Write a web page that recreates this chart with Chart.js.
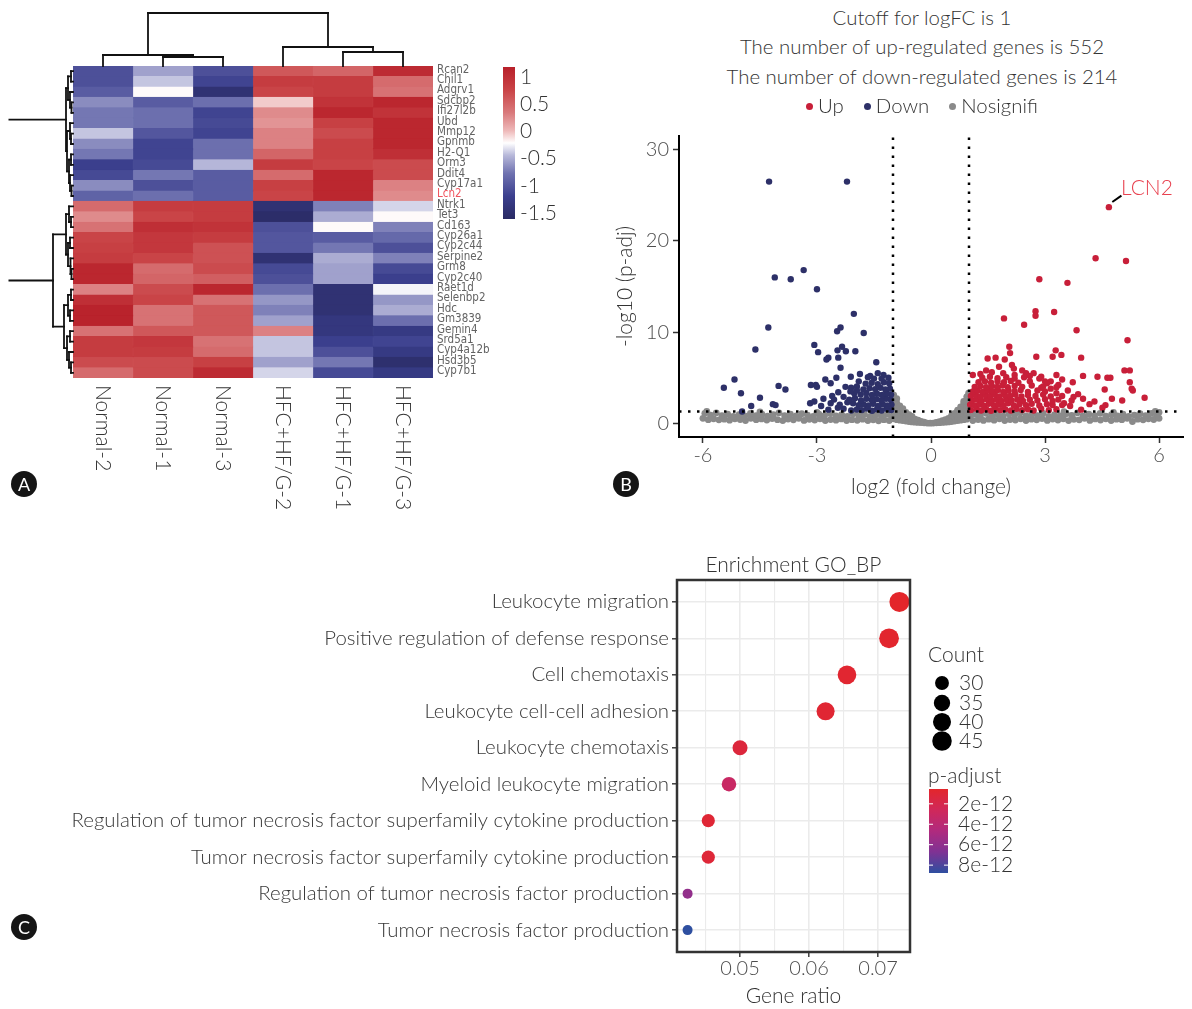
<!DOCTYPE html>
<html>
<head>
<meta charset="utf-8">
<script src="https://cdn.jsdelivr.net/npm/chart.js@4.4.1/dist/chart.umd.min.js"></script>
<style>
  html, body { margin: 0; padding: 0; background: #fff; }
  #page { position: relative; width: 1192px; height: 1009px; overflow: hidden;
          font-family: Lato, "Open Sans", sans-serif; font-weight: 300; color: #333; }
  canvas { position: absolute; }
  .tl { position: absolute; white-space: nowrap; font-size: 20.4px; line-height: 29.5px;
        transform: translateX(-50%); z-index: 2; }
  .badge { position: absolute; width: 26px; height: 26px; border-radius: 50%; background: #151515;
           color: #fff; font: 400 18px/26px Lato, sans-serif; text-align: center; z-index: 2; }
  .dot { display: inline-block; width: 7px; height: 7px; border-radius: 50%;
         vertical-align: middle; margin: 0 5px 3px 0; }
  .gap { display: inline-block; width: 20px; }
</style>
</head>
<body>
<div id="page">
  <canvas id="heatCanvas" width="600" height="510" style="left:0;top:0"></canvas>
  <canvas id="volcanoCanvas" width="592" height="390" style="left:600px;top:120px"></canvas>
  <canvas id="goCanvas" width="1192" height="464" style="left:0;top:545px"></canvas>

  <div class="tl" id="vt1" style="left:922px;top:3px"></div>
  <div class="tl" id="vt2" style="left:922px;top:32px"></div>
  <div class="tl" id="vt3" style="left:922px;top:62px"></div>
  <div class="tl" id="vLegend" style="left:922px;top:91px"></div>

  <div class="badge" style="left:11px;top:471px">A</div>
  <div class="badge" style="left:613px;top:471px">B</div>
  <div class="badge" style="left:11px;top:914px">C</div>
</div>

<script>
// ---------------- Panel A: clustered heatmap ----------------
const sampleNames = ['Normal-2', 'Normal-1', 'Normal-3', 'HFC+HF/G-2', 'HFC+HF/G-1', 'HFC+HF/G-3'];
const geneNames = ['Rcan2', 'Chil1', 'Adgrv1', 'Sdcbp2', 'Ifi27l2b', 'Ubd', 'Mmp12', 'Gpnmb', 'H2-Q1',
  'Orm3', 'Ddit4', 'Cyp17a1', 'Lcn2', 'Ntrk1', 'Tet3', 'Cd163', 'Cyp26a1', 'Cyp2c44', 'Serpine2',
  'Grm8', 'Cyp2c40', 'Raet1d', 'Selenbp2', 'Hdc', 'Gm3839', 'Gemin4', 'Srd5a1', 'Cyp4a12b',
  'Hsd3b5', 'Cyp7b1'];
const highlightGene = 'Lcn2';
// row z-scores, columns in sampleNames order
const exprZ = [
  [-1.05, -0.55, -1.05, 0.60, 0.50, 1.05],
  [-1.05, -0.40, -1.15, 0.85, 0.85, 0.45],
  [-0.95, -0.20, -1.45, 0.75, 0.85, 0.40],
  [-0.65, -0.95, -0.80, -0.05, 0.95, 1.10],
  [-0.75, -0.80, -1.15, 0.25, 1.10, 0.95],
  [-0.75, -0.80, -1.10, 0.20, 0.80, 1.10],
  [-0.40, -1.00, -1.15, 0.30, 0.70, 1.10],
  [-0.65, -1.15, -0.80, 0.30, 0.80, 1.10],
  [-0.75, -1.15, -0.80, 0.50, 0.80, 1.00],
  [-1.20, -1.10, -0.45, 0.85, 0.75, 0.70],
  [-1.10, -0.75, -0.95, 0.45, 1.10, 0.70],
  [-0.65, -1.05, -0.95, 0.80, 1.10, 0.30],
  [-0.90, -0.80, -0.95, 0.75, 1.10, 0.25],
  [0.45, 0.85, 0.85, -1.45, -0.70, -0.35],
  [0.25, 0.75, 0.85, -1.55, -0.50, -0.20],
  [0.40, 1.00, 0.95, -1.05, -0.20, -0.70],
  [0.75, 0.90, 0.85, -1.00, -0.95, -0.85],
  [0.80, 0.90, 0.65, -1.00, -0.75, -1.05],
  [0.85, 0.75, 0.65, -1.45, -0.50, -0.70],
  [1.10, 0.45, 0.70, -1.10, -0.55, -1.10],
  [1.10, 0.50, 0.55, -1.05, -0.55, -1.20],
  [0.30, 0.70, 1.10, -0.80, -1.45, -0.25],
  [1.00, 0.75, 0.40, -0.60, -1.45, -0.60],
  [1.15, 0.40, 0.60, -0.70, -1.45, -0.50],
  [1.15, 0.40, 0.60, -0.55, -1.35, -0.80],
  [0.40, 0.60, 0.60, 0.30, -1.35, -1.30],
  [0.85, 0.90, 0.40, -0.40, -1.20, -1.15],
  [0.85, 0.85, 0.45, -0.40, -1.05, -1.30],
  [0.70, 0.70, 0.80, -0.55, -0.75, -1.50],
  [0.45, 0.70, 1.05, -0.35, -1.10, -1.30]
];
const heatRange = [-1.61, 1.18];
const heatTicks = [1, 0.5, 0, -0.5, -1, -1.5];
const heatTickLabels = ['1', '0.5', '0', '-0.5', '-1', '-1.5'];
// dendrograms: [mergeHeight, left, right]; leaves are column / row indices
const colTree = [53, [11, 0, [9, 1, 2]], [19, 3, [14, 4, 5]]];
const rowTree = [66,
  [7, [5, [2, 0, 1], [3, 2, [1.5, 3, 4]]],
      [6, [3, 5, [2, 6, 7]], [4, [2, 8, 9], [3, 10, [1.5, 11, 12]]]]],
  [20, [7, [4, 13, [2, 14, 15]], [5, [3, 16, 17], [2.5, 18, [1.5, 19, 20]]]],
       [9, [5, [2, 21, 22], [3, 23, 24]], [6, [3, 25, 26], [4, 27, [2, 28, 29]]]]]];

const heatStops = [
  [0.00, [41, 42, 99]], [0.15, [59, 63, 142]], [0.30, [111, 114, 176]], [0.42, [184, 185, 218]],
  [0.50, [255, 255, 255]], [0.58, [238, 185, 185]], [0.70, [217, 121, 123]], [0.85, [201, 67, 70]],
  [1.00, [184, 32, 42]]
];
function rampColor(stops, t) {
  t = Math.max(0, Math.min(1, t));
  for (let i = 1; i < stops.length; i++) {
    if (t <= stops[i][0]) {
      const [t0, c0] = stops[i - 1], [t1, c1] = stops[i];
      const f = (t - t0) / (t1 - t0);
      const c = c0.map((v, k) => Math.round(v + (c1[k] - v) * f));
      return `rgb(${c[0]},${c[1]},${c[2]})`;
    }
  }
  const c = stops[stops.length - 1][1];
  return `rgb(${c[0]},${c[1]},${c[2]})`;
}
const heatColor = v => rampColor(heatStops, (v - heatRange[0]) / (heatRange[1] - heatRange[0]));

const FONT = 'Lato, "Open Sans", sans-serif';
const GENE_FONT = '11.5px "Liberation Sans Narrow", "DejaVu Sans Condensed", "Arial Narrow", sans-serif';

const heatDecor = {
  id: 'heatDecor',
  afterDraw(chart) {
    const { ctx, chartArea: a, scales: { x, y } } = chart;
    ctx.save();
    // gene names on the right
    ctx.font = GENE_FONT;
    ctx.textAlign = 'left';
    ctx.textBaseline = 'middle';
    geneNames.forEach((g, i) => {
      ctx.fillStyle = g === highlightGene ? '#f0555f' : '#636363';
      ctx.fillText(g, a.right + 4, y.getPixelForValue(i) - 1.5);
    });
    // sample names, rotated
    ctx.font = `300 21px ${FONT}`;
    ctx.fillStyle = '#333';
    sampleNames.forEach((s, c) => {
      ctx.save();
      ctx.translate(x.getPixelForValue(c + 0.5), a.bottom + 7);
      ctx.rotate(Math.PI / 2);
      ctx.textAlign = 'left';
      ctx.textBaseline = 'middle';
      ctx.fillText(s, 0, 0);
      ctx.restore();
    });
    // column dendrogram
    ctx.strokeStyle = '#111';
    ctx.lineWidth = 1.8;
    ctx.lineCap = 'square';
    const seg = (x0, y0, x1, y1) => { ctx.beginPath(); ctx.moveTo(x0, y0); ctx.lineTo(x1, y1); ctx.stroke(); };
    const drawCol = node => {
      if (typeof node === 'number') return { p: x.getPixelForValue(node + 0.5), h: 0 };
      const [h, l, r] = node;
      const L = drawCol(l), R = drawCol(r);
      const yh = a.top - h;
      seg(L.p, a.top - L.h, L.p, yh);
      seg(R.p, a.top - R.h, R.p, yh);
      seg(L.p, yh, R.p, yh);
      return { p: (L.p + R.p) / 2, h };
    };
    drawCol(colTree);
    // row dendrogram (root lies beyond the panel edge)
    ctx.save();
    ctx.beginPath();
    ctx.rect(8.5, 0, chart.width, chart.height);
    ctx.clip();
    const drawRow = node => {
      if (typeof node === 'number') return { p: y.getPixelForValue(node), h: 0 };
      const [h, l, r] = node;
      const L = drawRow(l), R = drawRow(r);
      const xh = a.left - h;
      seg(a.left - L.h, L.p, xh, L.p);
      seg(a.left - R.h, R.p, xh, R.p);
      seg(xh, L.p, xh, R.p);
      return { p: (L.p + R.p) / 2, h };
    };
    drawRow(rowTree);
    ctx.restore();
    // colour key
    const kx = 503, kw = 12, kt = 67, kb = 219;
    const grad = ctx.createLinearGradient(0, kt, 0, kb);
    heatStops.forEach(([t]) => grad.addColorStop(1 - t, rampColor(heatStops, t)));
    ctx.fillStyle = grad;
    ctx.fillRect(kx, kt, kw, kb - kt);
    ctx.font = `300 21px ${FONT}`;
    ctx.fillStyle = '#333';
    ctx.textAlign = 'left';
    ctx.textBaseline = 'middle';
    heatTicks.forEach((v, i) => {
      const yy = kt + (heatRange[1] - v) / (heatRange[1] - heatRange[0]) * (kb - kt);
      ctx.fillText(heatTickLabels[i], kx + kw + 5, yy);
    });
    ctx.restore();
  }
};

new Chart(document.getElementById('heatCanvas'), {
  type: 'bar',
  data: {
    labels: geneNames,
    datasets: sampleNames.map((s, c) => ({
      label: s,
      data: geneNames.map(() => [c, c + 1]),
      backgroundColor: exprZ.map(row => heatColor(row[c])),
      borderColor: exprZ.map(row => heatColor(row[c])),
      borderWidth: 0.6,
      borderSkipped: false,
      barPercentage: 1,
      categoryPercentage: 1,
      grouped: false
    }))
  },
  options: {
    indexAxis: 'y',
    responsive: false,
    animation: false,
    devicePixelRatio: 1,
    events: [],
    layout: { padding: { left: 73, top: 66, right: 167, bottom: 132 } },
    scales: {
      x: { type: 'linear', min: 0, max: sampleNames.length, display: false },
      y: { type: 'category', display: false }
    },
    plugins: { legend: { display: false }, tooltip: { enabled: false } }
  },
  plugins: [heatDecor]
});

// ---------------- Panel B: volcano plot ----------------
const fcCutoff = 1;
const padjCutoff = 0.05;
const upCount = 552;
const downCount = 214;
const xLimB = [-6.63, 6.63];
const yLimB = [-1.5, 31.5];
const xTicksB = [-6, -3, 0, 3, 6];
const xTickLabelsB = ['-6', '-3', '0', '3', '6'];
const yTicksB = [0, 10, 20, 30];
const yTickLabelsB = ['0', '10', '20', '30'];
const labelledGene = { name: 'LCN2', logFC: 4.68, logP: 23.7, textX: 5.68, textY: 25.8 };

const downGenes = [
  [-4.26,26.5],[-2.21,26.5],[-4.11,16.0],[-3.69,15.8],[-3.35,16.8],[-3.00,14.7],[-4.28,10.5],[-2.03,12.0],
  [-1.77,9.9],[-2.47,10.1],[-2.38,10.5],[-3.07,8.6],[-4.62,8.1],[-2.97,7.8],[-2.46,8.0],[-2.34,8.4],
  [-2.24,7.9],[-2.44,7.2],[-1.99,7.9],[-2.70,7.2],[-2.75,7.0],[-1.44,6.7],[-2.38,6.1],[-5.45,3.9],
  [-5.17,4.8],[-5.00,3.3],[-4.50,2.8],[-4.73,1.9],[-4.97,1.3],[-4.16,2.1],[-4.09,2.0],[-4.01,4.1],
  [-3.83,3.7],[-3.16,4.2],[-3.03,4.2],[-3.00,4.0],[-3.18,2.2],[-3.07,2.4],[-2.83,2.7],[-2.89,1.9],
  [-2.78,4.8],[-2.64,4.4],[-2.49,5.0],[-2.44,3.4],[-2.60,3.0],[-2.64,2.2],[-2.11,5.1],[-1.87,5.4],
  [-2.25,4.0],[-2.10,3.9],[-1.95,4.05],[-2.55,2.6],[-2.30,2.9],[-2.45,1.7],[-2.20,2.3],[-1.60,5.2],
  [-1.40,5.5],[-1.25,5.3],[-1.50,4.9],
  [-1.05,1.45],[-1.17,1.6],[-1.30,1.4],[-1.42,1.55],[-1.55,1.38],[-1.68,1.62],[-1.82,1.45],[-1.95,1.52],
  [-2.10,1.4],[-2.30,1.6],[-2.70,1.5],
  [-1.04,2.05],[-1.15,1.95],[-1.27,2.1],[-1.39,1.9],[-1.52,2.15],[-1.65,1.95],[-1.78,2.1],[-1.90,2.0],
  [-2.05,2.2],[-2.40,2.05],
  [-1.06,2.6],[-1.18,2.7],[-1.30,2.5],[-1.43,2.65],[-1.56,2.55],[-1.70,2.7],[-1.84,2.5],[-2.00,2.75],[-2.15,2.6],
  [-1.05,3.15],[-1.17,3.3],[-1.29,3.1],[-1.42,3.25],[-1.55,3.1],[-1.70,3.3],[-1.85,3.15],[-2.02,3.3],
  [-1.08,3.8],[-1.20,3.7],[-1.33,3.9],[-1.47,3.75],[-1.62,3.85],[-1.78,3.7],[-1.95,3.6],[-2.12,3.5],
  [-1.10,4.4],[-1.24,4.5],[-1.40,4.3],[-1.56,4.45],[-1.72,4.35],[-1.90,4.6],
  [-1.12,5.0],[-1.30,4.9],[-1.66,5.05]
];

const upGenes = [
  [labelledGene.logFC, labelledGene.logP],
  [4.33,18.1],[5.13,17.8],[2.85,15.8],[3.59,15.4],[1.92,11.5],[2.45,10.8],[2.75,12.3],[2.75,11.8],
  [3.24,12.2],[3.83,10.2],[5.17,9.1],[2.06,8.4],[2.08,7.7],[3.28,8.0],[3.43,7.5],[3.20,7.3],
  [2.77,7.3],[3.95,7.2],[1.49,7.1],[1.70,7.2],[1.94,7.0],[2.13,6.4],[2.18,6.0],[1.79,6.2],
  [5.09,5.8],[5.23,5.8],[4.38,5.1],[4.64,5.0],[4.72,5.0],[4.00,5.2],[5.23,4.5],[5.28,3.8],
  [5.31,3.6],[4.57,3.7],[3.73,4.5],[3.87,3.2],[3.70,2.5],[5.03,2.5],[4.76,2.7],[5.62,2.8],
  [4.17,2.1],[4.59,2.0],[4.51,1.7],[3.95,1.5],[3.66,1.9],[2.50,5.5],[2.60,5.2],[2.70,5.5],
  [2.85,4.9],[3.00,4.6],[3.15,4.6],[3.30,5.3],[3.35,4.2],[3.45,4.8],[3.00,3.5],[3.15,3.8],
  [3.30,3.3],[3.45,3.0],[3.60,3.6],[2.90,3.9],[3.50,2.2],[3.35,2.6],[3.20,2.0],[3.75,2.9],
  [4.00,2.7],[4.30,2.4],[2.40,5.8],[1.60,5.6],[1.45,5.8],[1.30,5.4],[1.10,5.3],[1.90,5.5],[2.20,5.3],
  [1.05,1.45],[1.20,1.6],[1.32,1.4],[1.45,1.55],[1.58,1.38],[1.70,1.62],[1.83,1.45],[1.95,1.55],
  [2.10,1.4],[2.25,1.6],[2.40,1.45],[2.55,1.55],[2.70,1.4],[2.90,1.6],[3.10,1.45],[3.30,1.55],
  [1.03,2.05],[1.15,1.95],[1.28,2.1],[1.40,1.9],[1.52,2.15],[1.66,1.95],[1.78,2.1],[1.90,2.0],
  [2.03,2.2],[2.18,1.95],[2.33,2.1],[2.50,2.0],[2.65,2.15],[2.85,1.95],[3.05,2.1],[3.45,2.0],
  [1.08,2.5],[1.20,2.6],[1.33,2.45],[1.46,2.65],[1.60,2.5],[1.72,2.6],[1.85,2.45],[1.98,2.65],
  [2.12,2.5],[2.27,2.6],[2.42,2.45],[2.60,2.6],[2.80,2.5],[3.00,2.65],[3.20,2.45],
  [1.05,3.0],[1.18,3.1],[1.30,2.95],[1.43,3.1],[1.56,3.0],[1.68,3.15],[1.80,2.95],[1.94,3.1],
  [2.08,3.0],[2.22,3.15],[2.38,2.95],[2.55,3.1],[2.75,3.0],[2.95,3.15],[3.15,2.95],
  [1.10,3.5],[1.23,3.6],[1.36,3.45],[1.50,3.6],[1.63,3.5],[1.76,3.65],[1.90,3.45],[2.04,3.6],
  [2.20,3.5],[2.36,3.65],[2.55,3.45],[2.80,3.6],
  [1.15,4.0],[1.30,4.1],[1.45,3.95],[1.60,4.1],[1.74,4.0],[1.88,4.15],[2.02,3.95],[2.20,4.1],
  [2.40,4.0],[2.65,4.15],[2.95,4.05],[3.30,3.95],
  [1.25,4.5],[1.42,4.6],[1.58,4.45],[1.75,4.6],[1.92,4.5],[2.10,4.65],[2.30,4.45],[2.60,4.6],[3.05,4.4],
  [1.35,5.0],[1.55,5.1],[1.75,4.95],[1.98,5.05],[2.20,4.9],[2.45,5.05],[2.90,5.1]
];

const nsGenes = [
  [-6.00,0.55],[-5.86,0.40],[-5.72,0.50],[-5.58,0.38],[-5.44,0.45],[-5.30,0.35],[-5.16,0.50],[-5.02,0.42],
  [-4.88,0.30],[-4.74,0.55],[-4.60,0.40],[-4.46,0.48],[-4.32,0.36],[-4.18,0.52],[-4.04,0.40],[-3.90,0.30],
  [-3.76,0.46],[-3.62,0.38],[-3.48,0.55],[-3.34,0.32],[-3.20,0.44],[-3.06,0.36],[-2.92,0.50],[-2.78,0.30],
  [-2.64,0.42],[-2.50,0.35],[-2.36,0.48],[-2.22,0.30],[-2.08,0.40],[-1.94,0.33],[-1.80,0.45],[-1.66,0.30],
  [-1.52,0.38],[-1.38,0.28],[-1.24,0.40],[-1.10,0.30],
  [-5.95,1.10],[-5.80,0.90],[-5.65,1.15],[-5.50,0.85],[-5.35,1.00],[-5.20,0.75],[-5.05,0.95],[-4.90,0.80],
  [-4.75,1.10],[-4.60,0.85],[-4.45,1.00],[-4.30,0.78],[-4.15,0.95],[-4.00,1.15],[-3.85,0.85],[-3.70,1.00],
  [-3.55,0.80],[-3.40,1.05],[-3.25,0.90],[-3.10,0.75],[-2.95,1.00],[-2.80,0.85],[-2.65,1.10],[-2.50,0.80],
  [-2.35,0.95],[-2.20,0.75],[-2.05,1.05],[-1.90,0.85],[-1.75,1.00],[-1.60,0.75],[-1.45,0.95],[-1.30,0.80],
  [-1.15,1.00],[-1.03,0.70],
  [-5.90,1.30],[-4.50,1.25],[-3.00,1.20],[-2.00,1.25],[-1.50,1.20],
  [-0.98,0.50],[-0.98,1.20],[-0.98,1.90],[-0.98,2.60],[-0.98,3.10],
  [-0.90,0.40],[-0.90,1.00],[-0.90,1.60],[-0.90,2.20],[-0.90,2.70],
  [-0.82,0.35],[-0.82,0.90],[-0.82,1.40],[-0.82,1.90],
  [-0.74,0.30],[-0.74,0.80],[-0.74,1.30],[-0.74,1.60],
  [-0.66,0.25],[-0.66,0.70],[-0.66,1.20],
  [-0.58,0.20],[-0.58,0.60],[-0.58,0.95],
  [-0.50,0.15],[-0.50,0.50],[-0.50,0.75],
  [-0.42,0.12],[-0.42,0.45],[-0.34,0.10],[-0.34,0.35],[-0.26,0.08],[-0.26,0.22],
  [-0.18,0.05],[-0.18,0.12],[-0.10,0.03],[-0.02,0.02],
  [0.06,0.03],[0.14,0.05],[0.14,0.10],[0.22,0.07],[0.22,0.18],[0.30,0.10],[0.30,0.30],
  [0.38,0.12],[0.38,0.40],[0.46,0.15],[0.46,0.55],[0.54,0.20],[0.54,0.60],[0.54,0.85],
  [0.62,0.25],[0.62,0.70],[0.62,1.10],[0.70,0.30],[0.70,0.80],[0.70,1.30],[0.70,1.45],
  [0.78,0.35],[0.78,0.90],[0.78,1.40],[0.78,1.80],
  [0.86,0.40],[0.86,1.00],[0.86,1.60],[0.86,2.10],[0.86,2.40],
  [0.94,0.45],[0.94,1.10],[0.94,1.80],[0.94,2.40],[0.94,2.90],
  [0.99,0.60],[0.99,1.50],[0.99,2.20],[0.99,2.80],[0.99,3.30],
  [1.10,0.30],[1.24,0.42],[1.38,0.32],[1.52,0.45],[1.66,0.35],[1.80,0.50],[1.94,0.30],[2.08,0.42],
  [2.22,0.36],[2.36,0.50],[2.50,0.30],[2.64,0.45],[2.78,0.38],[2.92,0.52],[3.06,0.32],[3.20,0.46],
  [3.34,0.36],[3.48,0.50],[3.62,0.30],[3.76,0.44],[3.90,0.38],[4.04,0.55],[4.18,0.32],[4.32,0.48],
  [4.46,0.36],[4.60,0.50],[4.74,0.30],[4.88,0.45],[5.02,0.40],[5.16,0.55],[5.30,0.20],[5.44,0.45],
  [5.58,0.38],[5.72,0.50],[5.86,0.42],[6.00,0.55],
  [1.03,0.75],[1.15,1.00],[1.30,0.80],[1.45,1.10],[1.60,0.85],[1.75,1.00],[1.90,0.78],[2.05,1.05],
  [2.20,0.90],[2.35,1.15],[2.50,0.80],[2.65,1.00],[2.80,0.85],[2.95,1.10],[3.10,0.75],[3.25,0.95],
  [3.40,0.82],[3.55,1.05],[3.70,0.88],[3.85,1.15],[4.00,0.80],[4.15,1.00],[4.30,0.85],[4.45,1.10],
  [4.60,0.78],[4.75,0.95],[4.90,0.82],[5.05,1.00],[5.20,0.75],[5.35,0.90],[5.50,1.05],[5.65,0.85],
  [5.80,1.10],[5.95,0.95],
  [1.20,1.25],[2.30,1.22],[3.50,1.28],[4.80,1.20],[5.90,1.30],[6.00,1.20]
];

const groupColors = { Up: '#c81f39', Down: '#2d3068', Nosignifi: '#8a8a8a' };

document.getElementById('vt1').textContent = `Cutoff for logFC is ${fcCutoff}`;
document.getElementById('vt2').textContent = `The number of up-regulated genes is ${upCount}`;
document.getElementById('vt3').textContent = `The number of down-regulated genes is ${downCount}`;
document.getElementById('vLegend').innerHTML = Object.keys(groupColors).map((k, i) =>
  `${i ? '<span class="gap"></span>' : ''}<span class="dot" style="background:${groupColors[k]}"></span>${k}`).join('');

const pCutLine = -Math.log10(padjCutoff);
const cutLine = (data) => ({
  data, showLine: true, borderColor: '#000', borderWidth: 2.5, borderDash: [2.5, 6.5],
  pointRadius: 0, fill: false, order: 0
});

const volcanoLabel = {
  id: 'volcanoLabel',
  afterDatasetsDraw(chart) {
    const { ctx, scales: { x, y } } = chart;
    const px = x.getPixelForValue(labelledGene.logFC), py = y.getPixelForValue(labelledGene.logP);
    const tx = x.getPixelForValue(labelledGene.textX), ty = y.getPixelForValue(labelledGene.textY);
    ctx.save();
    ctx.strokeStyle = '#000';
    ctx.lineWidth = 2;
    ctx.beginPath();
    ctx.moveTo(px + (tx - px) * 0.09, py + (ty - py) * 0.27);
    ctx.lineTo(px + (tx - px) * 0.33, py + (ty - py) * 0.6);
    ctx.stroke();
    ctx.font = `300 21px ${FONT}`;
    ctx.fillStyle = '#e8414f';
    ctx.textAlign = 'center';
    ctx.textBaseline = 'middle';
    ctx.fillText(labelledGene.name, tx, ty);
    ctx.restore();
  }
};

const tickFontB = { family: FONT, size: 20, weight: '300' };
new Chart(document.getElementById('volcanoCanvas'), {
  type: 'scatter',
  data: {
    datasets: [
      cutLine([[-fcCutoff, yLimB[0]], [-fcCutoff, yLimB[1]]]),
      cutLine([[fcCutoff, yLimB[0]], [fcCutoff, yLimB[1]]]),
      cutLine([[xLimB[0], pCutLine], [xLimB[1], pCutLine]]),
      { label: 'Up', data: upGenes, backgroundColor: groupColors.Up, pointRadius: 3.2, borderWidth: 0, order: 1 },
      { label: 'Down', data: downGenes, backgroundColor: groupColors.Down, pointRadius: 3.2, borderWidth: 0, order: 2 },
      { label: 'Nosignifi', data: nsGenes, backgroundColor: groupColors.Nosignifi, pointRadius: 3.4, borderWidth: 0, order: 3 }
    ]
  },
  options: {
    responsive: false,
    animation: false,
    devicePixelRatio: 1,
    events: [],
    layout: { padding: { left: 0, right: 9, top: 13, bottom: 0 } },
    scales: {
      x: {
        type: 'linear', min: xLimB[0], max: xLimB[1],
        afterBuildTicks: s => { s.ticks = xTicksB.map(v => ({ value: v })); },
        ticks: { callback: (v) => xTickLabelsB[xTicksB.indexOf(v)], font: tickFontB, color: '#4d4d4d',
                 padding: 1, maxRotation: 0, autoSkip: false },
        grid: { drawOnChartArea: false, tickLength: 6, tickColor: '#333', tickWidth: 1.5 },
        border: { display: true, color: '#000', width: 2 },
        title: { display: true, text: 'log2 (fold change)', font: { family: FONT, size: 21, weight: '300' },
                 color: '#333', padding: { top: 0, bottom: 10.4 } },
        afterFit: s => { s.height = 73; }
      },
      y: {
        type: 'linear', min: yLimB[0], max: yLimB[1],
        afterBuildTicks: s => { s.ticks = yTicksB.map(v => ({ value: v })); },
        ticks: { callback: (v) => yTickLabelsB[yTicksB.indexOf(v)], font: tickFontB, color: '#4d4d4d',
                 padding: 4, autoSkip: false },
        grid: { drawOnChartArea: false, tickLength: 6, tickColor: '#333', tickWidth: 1.5 },
        border: { display: true, color: '#000', width: 2 },
        title: { display: true, text: '-log10 (p-adj)', font: { family: FONT, size: 21, weight: '300' },
                 color: '#333', padding: { top: 12.4, bottom: 0 } },
        afterFit: s => { s.width = 79; }
      }
    },
    plugins: { legend: { display: false }, tooltip: { enabled: false } }
  },
  plugins: [volcanoLabel]
});

// ---------------- Panel C: GO enrichment dot plot ----------------
const goTerms = [
  'Leukocyte migration',
  'Positive regulation of defense response',
  'Cell chemotaxis',
  'Leukocyte cell-cell adhesion',
  'Leukocyte chemotaxis',
  'Myeloid leukocyte migration',
  'Regulation of tumor necrosis factor superfamily cytokine production',
  'Tumor necrosis factor superfamily cytokine production',
  'Regulation of tumor necrosis factor production',
  'Tumor necrosis factor production'
];
const geneRatio = [0.0731, 0.0716, 0.0655, 0.0624, 0.0500, 0.0484, 0.0454, 0.0454, 0.0424, 0.0424];
const geneCount = [47, 46, 42, 40, 32, 31, 29, 29, 27, 27];
const pAdjust = [0.55e-12, 0.7e-12, 0.8e-12, 0.9e-12, 1.3e-12, 3.1e-12, 1.0e-12, 1.1e-12, 5.9e-12, 8.77e-12];
const ratioTicks = [0.05, 0.06, 0.07];
const ratioTickLabels = ['0.05', '0.06', '0.07'];
const ratioMinor = [0.045, 0.055, 0.065];
const countBreaks = [30, 35, 40, 45];
const pBreaks = [2e-12, 4e-12, 6e-12, 8e-12];
const pBreakLabels = ['2e-12', '4e-12', '6e-12', '8e-12'];

const rMin = Math.min(...geneRatio), rMax = Math.max(...geneRatio);
const xLimC = [rMin - 0.05 * (rMax - rMin), rMax + 0.05 * (rMax - rMin)];
const cMin = Math.min(...geneCount), cMax = Math.max(...geneCount);
const pMin = Math.min(...pAdjust), pMax = Math.max(...pAdjust);
// area scale for dot size
const dotRadius = c => 5 + 5 * Math.sqrt(Math.max(0, (c - cMin) / (cMax - cMin)));
const pStops = [
  [0.00, [227, 38, 43]], [0.25, [208, 40, 90]], [0.50, [176, 42, 126]], [0.75, [127, 50, 148]], [1.00, [46, 79, 160]]
];
const pColor = p => rampColor(pStops, (p - pMin) / (pMax - pMin));

const goDecor = {
  id: 'goDecor',
  afterDatasetsDraw(chart) {
    const { ctx, chartArea: a } = chart;
    ctx.save();
    ctx.strokeStyle = '#333';
    ctx.lineWidth = 2.5;
    ctx.strokeRect(a.left, a.top, a.right - a.left, a.bottom - a.top);
    ctx.restore();
  },
  afterDraw(chart) {
    const { ctx } = chart;
    ctx.save();
    ctx.font = `300 21px ${FONT}`;
    ctx.fillStyle = '#333';
    ctx.textAlign = 'left';
    ctx.textBaseline = 'middle';
    // size legend
    ctx.fillText('Count', 928, 110);
    const rowY = [138, 158, 177, 196];
    countBreaks.forEach((c, i) => {
      ctx.fillStyle = '#000';
      ctx.beginPath();
      ctx.arc(942, rowY[i], dotRadius(c), 0, Math.PI * 2);
      ctx.fill();
      ctx.fillStyle = '#333';
      ctx.fillText(String(c), 959, rowY[i]);
    });
    // colour legend
    ctx.fillText('p-adjust', 928, 231);
    const bx = 929, bw = 19, bt = 244, bb = 328;
    const grad = ctx.createLinearGradient(0, bt, 0, bb);
    pStops.forEach(([t]) => grad.addColorStop(t, rampColor(pStops, t)));
    ctx.fillStyle = grad;
    ctx.fillRect(bx, bt, bw, bb - bt);
    pBreaks.forEach((p, i) => {
      const yy = bt + (p - pMin) / (pMax - pMin) * (bb - bt);
      ctx.strokeStyle = '#fff';
      ctx.lineWidth = 1;
      ctx.beginPath();
      ctx.moveTo(bx, yy); ctx.lineTo(bx + 4, yy);
      ctx.moveTo(bx + bw - 4, yy); ctx.lineTo(bx + bw, yy);
      ctx.stroke();
      ctx.fillStyle = '#333';
      ctx.fillText(pBreakLabels[i], 958, yy);
    });
    ctx.restore();
  }
};

const isMajorC = v => ratioTicks.some(t => Math.abs(t - v) < 1e-9);
new Chart(document.getElementById('goCanvas'), {
  type: 'scatter',
  data: {
    datasets: [{
      label: 'GO_BP',
      data: goTerms.map((t, i) => ({ x: geneRatio[i], y: i })),
      pointRadius: geneCount.map(dotRadius),
      backgroundColor: pAdjust.map(pColor),
      borderWidth: 0,
      clip: 0
    }]
  },
  options: {
    responsive: false,
    animation: false,
    devicePixelRatio: 1,
    events: [],
    layout: { padding: { left: 0, right: 282, top: 0, bottom: 0 } },
    scales: {
      x: {
        type: 'linear', min: xLimC[0], max: xLimC[1],
        afterBuildTicks: s => { s.ticks = [...ratioMinor, ...ratioTicks].sort((a, b) => a - b).map(v => ({ value: v })); },
        ticks: {
          callback: v => { const k = ratioTicks.findIndex(t => Math.abs(t - v) < 1e-9); return k >= 0 ? ratioTickLabels[k] : ''; },
          font: { family: FONT, size: 20, weight: '300' }, color: '#4d4d4d', padding: 0, maxRotation: 0, autoSkip: false
        },
        grid: {
          color: '#ebebeb',
          lineWidth: ctx => isMajorC(ctx.tick.value) ? 1.6 : 1.1,
          tickColor: ctx => isMajorC(ctx.tick.value) ? '#333' : 'rgba(0,0,0,0)',
          tickLength: 5, tickWidth: 1.4
        },
        border: { display: false },
        title: { display: true, text: 'Gene ratio', font: { family: FONT, size: 21, weight: '300' },
                 color: '#333', padding: { top: 0, bottom: 0 } },
        afterFit: s => { s.height = 57; }
      },
      y: {
        type: 'linear', reverse: true, min: -0.6, max: goTerms.length - 0.4,
        afterBuildTicks: s => { s.ticks = goTerms.map((t, i) => ({ value: i })); },
        ticks: { callback: v => goTerms[v], font: { family: FONT, size: 20.4, weight: '300' }, color: '#383838',
                 padding: 3, autoSkip: false },
        grid: { color: '#ebebeb', lineWidth: 1.6, tickColor: '#333', tickLength: 5, tickWidth: 1.4 },
        border: { display: false },
        afterFit: s => { s.width = 677; }
      }
    },
    plugins: {
      legend: { display: false },
      tooltip: { enabled: false },
      title: { display: true, text: 'Enrichment GO_BP', fullSize: false, color: '#333',
               font: { family: FONT, size: 21, weight: '300' }, padding: { top: 7.4, bottom: 2.4 } }
    }
  },
  plugins: [goDecor]
});

if (document.fonts && document.fonts.ready) {
  document.fonts.ready.then(() => Object.values(Chart.instances).forEach(c => c.update('none')));
}
</script>
</body>
</html>
